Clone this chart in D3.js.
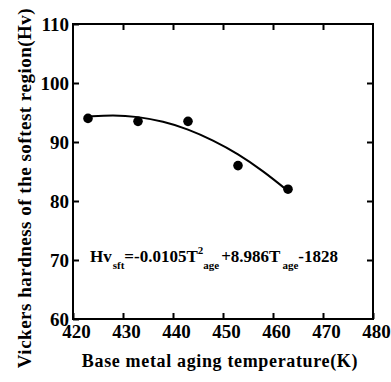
<!DOCTYPE html>
<html>
<head>
<meta charset="utf-8">
<script src="https://cdn.jsdelivr.net/npm/d3@7"></script>
</head>
<body style="margin:0">
<script>
// measured points
var temps = [423, 433, 443, 453, 463];
var hardness = [94, 93.5, 93.5, 86, 82];

// fitted curve
var fitTemps = [423, 428, 433, 438, 443, 448, 453, 458, 463];
var fitHv = [94.3, 94.6, 94.3, 93.5, 92.2, 90.3, 88.0, 85.1, 81.7];

var xTicks = [420, 430, 440, 450, 460, 470, 480];
var yTicks = [60, 70, 80, 90, 100, 110];

var margin = { top: 24, right: 18, bottom: 63, left: 73 },
  width = 391 - margin.left - margin.right,
  height = 382 - margin.top - margin.bottom;

var x = d3.scaleLinear().domain([420, 480]).range([0, width]);
var y = d3.scaleLinear().domain([60, 110]).range([height, 0]);

var svg = d3.select("body").append("svg")
  .attr("width", 391)
  .attr("height", 382);

var G = svg.append("g")
  .attr("transform", "translate(" + margin.left + "," + margin.top + ")");

function serifText(sel, size) {
  sel.style("font-family", "'Liberation Serif', 'Times New Roman', Times, serif")
    .attr("font-weight", "bold")
    .attr("font-size", size);
}

// frame
G.append("rect")
  .attr("width", width)
  .attr("height", height)
  .attr("fill", "none")
  .attr("stroke", "#000")
  .attr("stroke-width", 2);

// bottom axis with inner ticks
var xb = G.append("g")
  .attr("transform", "translate(0," + height + ")")
  .call(d3.axisBottom(x).tickValues(xTicks).tickSize(-6).tickPadding(6).tickFormat(d3.format("d")));
xb.call(serifText, 19);
xb.select(".domain").remove();
xb.selectAll("line").attr("stroke-width", 2);
xb.selectAll("text").attr("fill", "#000").attr("dy", "0.71em").attr("dx", 3).call(serifText, 19);

var xt = G.append("g")
  .call(d3.axisTop(x).tickValues(xTicks.slice(1, -1)).tickSize(-6).tickFormat(""));
xt.select(".domain").remove();
xt.selectAll("line").attr("stroke-width", 2);

var yl = G.append("g")
  .call(d3.axisLeft(y).tickValues(yTicks).tickSize(-6).tickPadding(4).tickFormat(d3.format("d")));
yl.call(serifText, 19);
yl.select(".domain").remove();
yl.selectAll("line").attr("stroke-width", 2);
yl.selectAll("text").attr("fill", "#000").attr("dy", "0.32em").call(serifText, 19);

var yr = G.append("g")
  .attr("transform", "translate(" + width + ",0)")
  .call(d3.axisRight(y).tickValues(yTicks.slice(1, -1)).tickSize(-6).tickFormat(""));
yr.select(".domain").remove();
yr.selectAll("line").attr("stroke-width", 2);

// fit line
var line = d3.line()
  .x(function (d) { return x(d[0]); })
  .y(function (d) { return y(d[1]); })
  .curve(d3.curveBasis);

G.append("path")
  .datum(d3.zip(fitTemps, fitHv))
  .attr("fill", "none")
  .attr("stroke", "#000")
  .attr("stroke-width", 2)
  .attr("d", line);

// points
G.selectAll(".dot")
  .data(d3.zip(temps, hardness))
  .enter()
  .append("circle")
  .attr("class", "dot")
  .attr("r", 4.8)
  .attr("cx", function (d) { return x(d[0]); })
  .attr("cy", function (d) { return y(d[1]); })
  .attr("fill", "#000");

// equation
var eq = G.append("text")
  .attr("x", 17)
  .attr("y", y(69.7))
  .call(serifText, 17);
eq.append("tspan").text("Hv");
eq.append("tspan").attr("dy", 7).attr("dx", 1).attr("font-size", 11).text("sft");
eq.append("tspan").attr("dy", -7).text("=-0.0105T");
eq.append("tspan").attr("dy", -8).attr("font-size", 11).text("2");
eq.append("tspan").attr("dy", 15).attr("font-size", 11).text("age");
eq.append("tspan").attr("dy", -7).attr("dx", 2).text("+8.986T");
eq.append("tspan").attr("dy", 7).attr("dx", 2).attr("font-size", 11).text("age");
eq.append("tspan").attr("dy", -7).text("-1828");

// axis titles
G.append("text")
  .attr("x", width / 2 - 3)
  .attr("y", height + 48)
  .attr("text-anchor", "middle")
  .style("letter-spacing", "0.65px")
  .call(serifText, 18)
  .text("Base metal aging temperature(K)");

G.append("text")
  .attr("transform", "rotate(-90)")
  .attr("x", -(188 - margin.top))
  .attr("y", -margin.left + 31)
  .attr("text-anchor", "middle")
  .style("letter-spacing", "0.5px")
  .call(serifText, 19)
  .text("Vickers hardness of the softest region(Hv)");
</script>
</body>
</html>
